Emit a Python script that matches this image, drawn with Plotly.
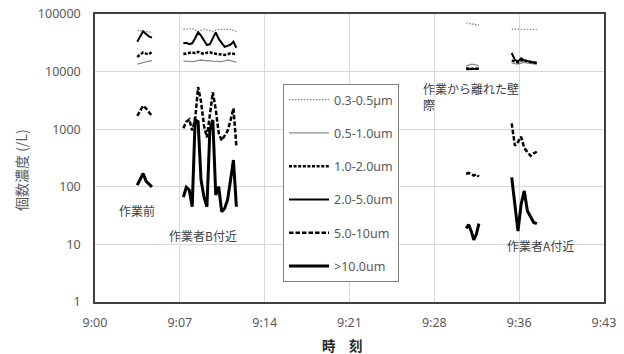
import plotly.graph_objects as go

DAY = "2024-01-01 "

# Sampling times (segments separated by None)
times = [
    "09:03:35", "09:03:50", "09:04:05", "09:04:20", "09:04:35", "09:04:50",
    None,
    "09:07:30", "09:07:45", "09:08:00", "09:08:15", "09:08:30", "09:08:45", "09:09:00",
    "09:09:15", "09:09:30", "09:09:45", "09:10:00", "09:10:15", "09:10:30", "09:10:45",
    "09:11:00", "09:11:15", "09:11:30", "09:11:45", "09:12:00",
    None,
    "09:31:30", "09:31:43", "09:31:56", "09:32:09", "09:32:22", "09:32:35",
    None,
    "09:35:22", "09:35:38", "09:35:54", "09:36:10", "09:36:26", "09:36:42", "09:36:58",
    "09:37:14", "09:37:30",
]

v_03_05 = [
    52000, 51000, 50000, 49000, 48000, 48000,
    None,
    54000, 55000, 56000, 56000, 53000, 49500, 52000, 54000, 53000, 51000, 49500, 52000,
    54000, 54000, 54000, 54000, 54000, 52000, 49500,
    None,
    70000, 68500, 67000, 66000, 65000, 64000,
    None,
    54000, 55000, 54000, 54000, 55000, 54000, 54000, 55000, 54000,
]
v_05_10 = [
    13500, 13800, 14200, 14800, 15200, 15500,
    None,
    15400, 15100, 14900, 14900, 15200, 15600, 15900, 15600, 15300, 15400, 15200, 15000,
    14900, 14900, 15300, 15900, 15500, 15000, 14500,
    None,
    12500, 13200, 13500, 13400, 13000, 12600,
    None,
    14000, 13800, 13500, 14000, 14500, 14000, 13800, 13600, 13500,
]
v_10_20 = [
    18000, 20000, 21500, 20500, 20000, 22000,
    None,
    20200, 20800, 21200, 21600, 20800, 22000, 21000, 20200, 21300, 21600, 20800, 20400,
    20200, 19800, 19400, 20000, 20800, 20400, 19900,
    None,
    11300, 11200, 11100, 11100, 11200, 11300,
    None,
    15500, 15000, 14500, 15500, 16000, 15000, 14500, 14300, 14000,
]
v_20_50 = [
    33000, 42000, 50000, 45000, 41000, 39000,
    None,
    31000, 31500, 30000, 31000, 38000, 48000, 42000, 34000, 29000, 30000, 38000, 48000,
    37000, 31000, 27000, 28000, 29500, 33000, 26000,
    None,
    11000, 11000, 10900, 11000, 11100, 11200,
    None,
    21000, 16000, 15000, 17000, 15500, 15000, 14800, 14500, 14300,
]
v_50_100 = [
    1700, 2100, 2550, 2300, 2000, 1700,
    None,
    1040, 1350, 1480, 950, 1500, 5400, 3000, 1150, 720, 1700, 4400, 2200,
    850, 640, 760, 930, 1400, 2300, 500,
    None,
    167, 174, 165, 156, 165, 150,
    None,
    1265, 520, 600, 740, 470, 400, 345, 380, 406,
]
v_100 = [
    107, 140, 170, 125, 110, 100,
    None,
    66, 98, 88, 45, 1450, 1350, 131, 67, 45, 968, 1445, 72,
    100, 37, 42, 59, 130, 292, 45,
    None,
    19, 22, 17, 12, 15, 23,
    None,
    146, 45, 17, 50, 85, 38, 30, 24, 23,
]

series_names = ["0.3-0.5µm", "0.5-1.0um", "1.0-2.0um", "2.0-5.0um", "5.0-10um", ">10.0um"]

x_tick_times = ["09:00:00", "09:07:12", "09:14:24", "09:21:36", "09:28:48", "09:36:00", "09:43:12"]
x_tick_labels = ["9:00", "9:07", "9:14", "9:21", "9:28", "9:36", "9:43"]
y_tick_vals = [1, 10, 100, 1000, 10000, 100000]
y_tick_labels = ["1", "10", "100", "1000", "10000", "100000"]

x = [DAY + t if t else None for t in times]

styles = [
    dict(color="#8c8c8c", width=1.4, dash="1.5px,1.5px"),
    dict(color="#8c8c8c", width=1.3, dash="solid"),
    dict(color="#000000", width=2.5, dash="3px,1.6px"),
    dict(color="#000000", width=2.0, dash="solid"),
    dict(color="#000000", width=2.5, dash="4.5px,2px"),
    dict(color="#000000", width=3.0, dash="solid"),
]
values = [v_03_05, v_05_10, v_10_20, v_20_50, v_50_100, v_100]

fig = go.Figure()
for name, vals, st in zip(series_names, values, styles):
    fig.add_trace(go.Scatter(
        x=x, y=vals, mode="lines", name=name, legendgroup=name,
        line=st, connectgaps=False,
    ))

font_main = "Noto Sans, Open Sans, sans-serif"
font_jp = "Noto Sans CJK JP, sans-serif"
grey = "#595959"

fig.update_layout(
    width=624, height=354,
    margin=dict(l=95, r=20, t=14, b=52, autoexpand=False),
    paper_bgcolor="white", plot_bgcolor="white",
    font=dict(family=font_main, size=12.5, color=grey),
    showlegend=True,
    legend=dict(
        x=(283 - 95) / 509, y=(302 - 84) / 288, xanchor="left", yanchor="top",
        bordercolor="#7f7f7f", borderwidth=1, bgcolor="white",
        font=dict(family=font_main, size=12.5, color=grey),
        tracegroupgap=14, itemwidth=40,
    ),
    xaxis=dict(
        type="date",
        range=[DAY + x_tick_times[0], DAY + x_tick_times[-1]],
        tickmode="array",
        tickvals=[DAY + t for t in x_tick_times],
        ticktext=x_tick_labels,
        showgrid=True, gridcolor="#d9d9d9", gridwidth=1,
        showline=True, linecolor="#404040", linewidth=1.5, mirror=True,
        ticks="", ticklabelstandoff=8,
        zeroline=False, automargin=False,
    ),
    yaxis=dict(
        type="log", range=[0, 5],
        tickmode="array", tickvals=y_tick_vals, ticktext=y_tick_labels,
        showgrid=True, gridcolor="#d9d9d9", gridwidth=1,
        showline=True, linecolor="#404040", linewidth=1.5, mirror=True,
        ticks="", ticklabelstandoff=10,
        zeroline=False, automargin=False,
    ),
)

def px(X):
    return (X - 95) / 509

def py(Y):
    return (302 - Y) / 288

ann = [
    dict(text="作業前", x=px(137), y=py(210), xanchor="center", yanchor="middle"),
    dict(text="作業者B付近", x=px(203), y=py(235), xanchor="center", yanchor="middle"),
    dict(text="作業から離れた壁", x=px(421), y=py(89), xanchor="left", yanchor="middle"),
    dict(text="際", x=px(421), y=py(104), xanchor="left", yanchor="middle"),
    dict(text="作業者A付近", x=px(540), y=py(245), xanchor="center", yanchor="middle"),
]
for a in ann:
    fig.add_annotation(xref="paper", yref="paper", showarrow=False,
                       font=dict(family=font_jp, size=12, color="#404040"), **a)

fig.add_annotation(text="個数濃度 (/L)", xref="paper", yref="paper",
                   x=px(21), y=py(170), xanchor="center", yanchor="middle",
                   textangle=-90, showarrow=False,
                   font=dict(family=font_jp, size=14, color=grey))
fig.add_annotation(text="<b>時　刻</b>", xref="paper", yref="paper",
                   x=px(342), y=py(345), xanchor="center", yanchor="middle",
                   showarrow=False,
                   font=dict(family=font_jp, size=13.5, color="#262626"))

fig.write_html("out.html")
